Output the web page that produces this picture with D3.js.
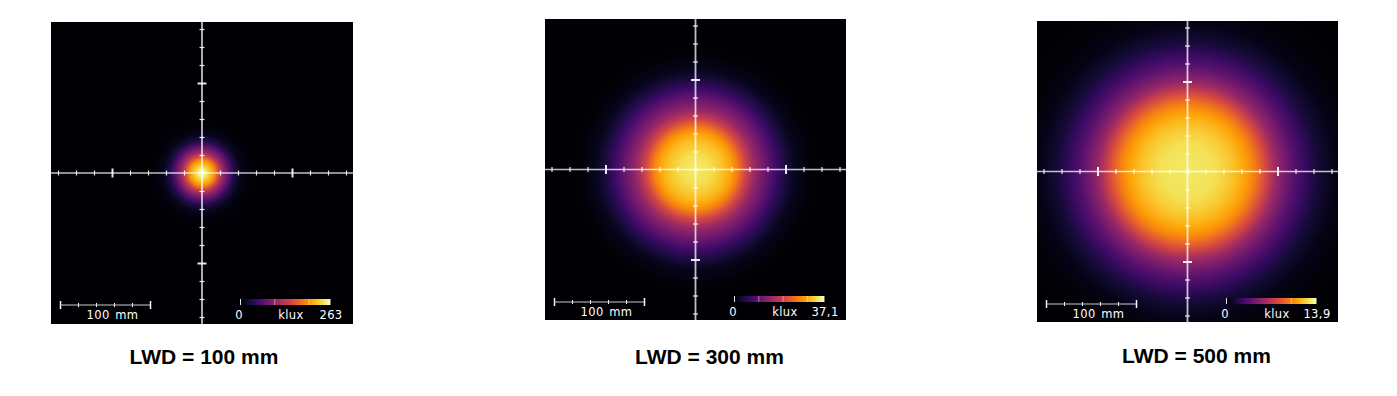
<!DOCTYPE html>
<html>
<head>
<meta charset="utf-8">
<script src="https://cdn.jsdelivr.net/npm/d3@7"></script>
<style>
html, body { margin: 0; padding: 0; background: #fff; }
svg { display: block; }
</style>
</head>
<body>
<div id="container"></div>
<script>
/* jshint esversion: 8 */
// values
const titles = ["LWD = 100 mm", "LWD = 300 mm", "LWD = 500 mm"];
const maxLabels = ["263", "37,1", "13,9"];
const maxValues = [263, 37.1, 13.9];
const colorTicks = [[0, 100, 200, 263], [0, 10, 20, 30, 37.1], [0, 10, 13.9]];
const axisTicks = d3.range(-160, 161, 20);

// radial profile: distance from centre (mm) and share of the panel's maximum
const radii100 = [0, 4, 8, 11, 14, 19, 23, 30, 36, 43, 50, 60, 75];
const levels100 = [1, 0.96, 0.88, 0.82, 0.75, 0.55, 0.42, 0.25, 0.12, 0.05, 0.02, 0.005, 0];
const radii300 = [0, 15, 25, 33, 40, 46, 55, 65, 74, 83, 92, 100, 111, 130, 150];
const levels300 = [0.94, 0.92, 0.88, 0.84, 0.79, 0.72, 0.57, 0.42, 0.33, 0.25, 0.17, 0.11, 0.05, 0.01, 0];
const radii500 = [0, 30, 45, 55, 65, 74, 87, 98, 108, 118, 131, 144, 163, 190, 235];
const levels500 = [0.94, 0.92, 0.88, 0.84, 0.79, 0.72, 0.57, 0.42, 0.33, 0.25, 0.17, 0.1, 0.04, 0.01, 0];
const profiles = [[radii100, levels100], [radii300, levels300], [radii500, levels500]];

const width = 1397;
const height = 396;
const panelSizes = [302, 301, 301];
const panelLefts = [51, 545, 1037];
const panelTops = [22, 19, 21];
const titleCenters = [204, 709.5, 1196.5];
const titleBaselines = [364, 364, 363];
const pxPerMm = 0.9;

const svg = d3.select("#container").append("svg")
    .attr("width", width)
    .attr("height", height)
    .attr("viewBox", `0 0 ${width} ${height}`);
const defs = svg.append("defs");

// colour bar gradient
const barGradient = defs.append("linearGradient").attr("id", "bar");
barGradient.selectAll("stop")
    .data(d3.range(0, 1.001, 0.05))
    .join("stop")
    .attr("offset", d => d)
    .attr("stop-color", d => d3.interpolateInferno(d));

titles.forEach((title, p) => {
    const panelSize = panelSizes[p];
    const fullWidthMm = panelSize / pxPerMm;
    const g = svg.append("g")
        .attr("transform", `translate(${panelLefts[p]},${panelTops[p]})`);
    const x = d3.scaleLinear()
        .domain([-fullWidthMm / 2, fullWidthMm / 2])
        .range([0, panelSize]);
    const y = d3.scaleLinear()
        .domain([fullWidthMm / 2, -fullWidthMm / 2])
        .range([0, panelSize]);
    const [radii, levels] = profiles[p];
    const maxRadius = radii[radii.length - 1];

    const gradient = defs.append("radialGradient")
        .attr("id", `spot${p}`)
        .attr("gradientUnits", "userSpaceOnUse")
        .attr("cx", x(0))
        .attr("cy", y(0))
        .attr("r", x(maxRadius) - x(0));
    gradient.selectAll("stop")
        .data(radii)
        .join("stop")
        .attr("offset", d => d / maxRadius)
        .attr("stop-color", (d, i) => d3.interpolateInferno(levels[i]));
    g.append("rect")
        .attr("width", panelSize)
        .attr("height", panelSize)
        .attr("fill", `url(#spot${p})`);

    // cross hair
    const tickStyle = sel => {
        sel.select(".domain").remove();
        sel.selectAll(".tick line")
            .attr("stroke", "#fff")
            .attr("stroke-opacity", 0.9);
    };
    const axisX = g.append("g")
        .attr("transform", `translate(0,${y(0)})`)
        .call(d3.axisBottom(x).tickValues(axisTicks).tickFormat(""))
        .call(tickStyle);
    axisX.selectAll(".tick line")
        .attr("y1", d => Math.abs(d) === 100 ? -4.5 : -2.5)
        .attr("y2", d => Math.abs(d) === 100 ? 4.5 : 2.5)
        .attr("stroke-width", d => Math.abs(d) === 100 ? 2 : 1.2);
    const axisY = g.append("g")
        .attr("transform", `translate(${x(0)},0)`)
        .call(d3.axisLeft(y).tickValues(axisTicks).tickFormat(""))
        .call(tickStyle);
    axisY.selectAll(".tick line")
        .attr("x1", d => Math.abs(d) === 100 ? -4.5 : -2.5)
        .attr("x2", d => Math.abs(d) === 100 ? 4.5 : 2.5)
        .attr("stroke-width", d => Math.abs(d) === 100 ? 2 : 1.2);
    g.append("line")
        .attr("x1", 0)
        .attr("x2", panelSize)
        .attr("y1", y(0))
        .attr("y2", y(0))
        .attr("stroke", "#fff")
        .attr("stroke-opacity", 0.75)
        .attr("stroke-width", 1.5);
    g.append("line")
        .attr("x1", x(0))
        .attr("x2", x(0))
        .attr("y1", 0)
        .attr("y2", panelSize)
        .attr("stroke", "#fff")
        .attr("stroke-opacity", 0.75)
        .attr("stroke-width", 1.8);

    // length scale bar
    const scaleBar = d3.scaleLinear().domain([0, 100]).range([9, 99]);
    const lengthG = g.append("g").attr("transform", "translate(0,283)");
    lengthG.call(d3.axisBottom(scaleBar).tickValues(d3.range(0, 101, 20)).tickFormat(""))
        .call(sel => sel.select(".domain").remove());
    lengthG.append("line")
        .attr("x1", scaleBar(0))
        .attr("x2", scaleBar(100))
        .attr("stroke", "#ccc");
    lengthG.selectAll(".tick line")
        .attr("stroke", "#fff")
        .attr("stroke-width", d => d % 100 === 0 ? 1.5 : 1)
        .attr("y1", d => d % 100 === 0 ? -4 : -2)
        .attr("y2", d => d % 100 === 0 ? 4 : 2);

    // colour bar
    const colorScale = d3.scaleLinear()
        .domain([0, maxValues[p]])
        .range([189, 279]);
    g.append("rect")
        .attr("x", colorScale.range()[0])
        .attr("y", 277)
        .attr("width", 90)
        .attr("height", 6)
        .attr("fill", "url(#bar)");
    const colorG = g.append("g").attr("transform", "translate(0,283)");
    colorG.call(d3.axisTop(colorScale).tickValues(colorTicks[p]).tickFormat("").tickSize(6))
        .call(sel => sel.select(".domain").remove());
    colorG.selectAll(".tick line")
        .attr("stroke", "#fff")
        .attr("stroke-opacity", (d, i) => i === 0 ? 0.9 : 0.45);

    // labels inside the panel
    const labels = [
        ["100 mm", 61.5],
        ["0", 188],
        ["klux", 240],
        [maxLabels[p], 280]
    ];
    g.selectAll("text.label")
        .data(labels)
        .join("text")
        .attr("class", "label")
        .attr("x", d => d[1])
        .attr("y", 297)
        .attr("text-anchor", "middle")
        .attr("font-family", "DejaVu Sans")
        .attr("font-size", 11.5)
        .attr("letter-spacing", 0.4)
        .attr("word-spacing", 1.5)
        .attr("fill", "#fff")
        .text(d => d[0]);

    svg.append("text")
        .attr("x", titleCenters[p])
        .attr("y", titleBaselines[p])
        .attr("text-anchor", "middle")
        .attr("font-family", "Liberation Sans")
        .attr("font-weight", "bold")
        .attr("font-size", 21)
        .attr("fill", "#000")
        .text(title);
});
</script>
</body>
</html>
